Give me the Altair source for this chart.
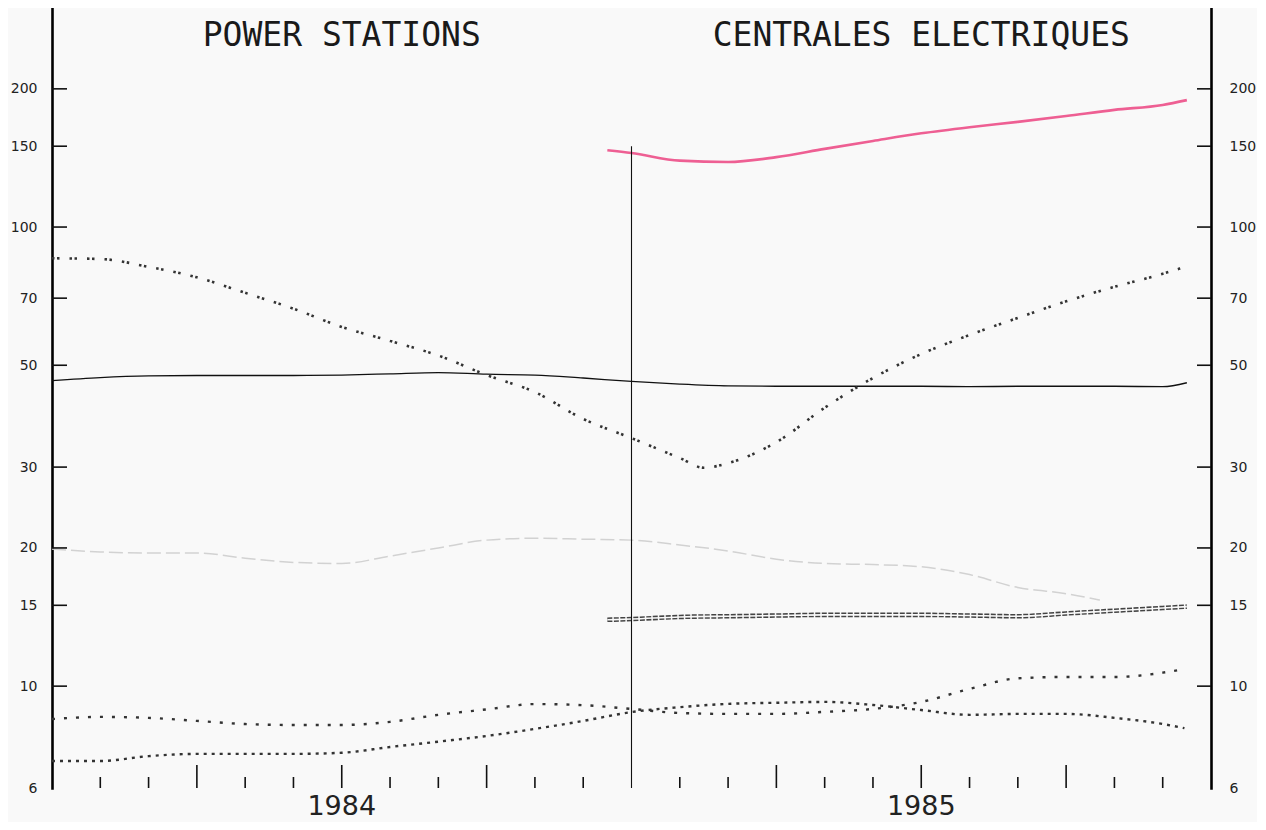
import altair as alt
import pandas as pd

# ---------------- data ----------------
# x positions are months since Jan 1984 (0 = start of 1984, 24 = end of 1985)
pink_months = [11.5, 12, 13, 14, 15, 16, 17, 18, 19, 20, 21, 22, 23, 23.5]
pink_values = [147, 145, 139.5, 138.6, 142, 148, 154, 160, 165, 169.5, 174.5, 180, 184.5, 189]

cross_months = [0, 1, 2, 3, 4, 5, 6, 7, 8, 9, 10, 11, 12, 13, 13.5, 14, 15, 16, 17, 18, 19, 20, 21, 22, 23, 23.4]
cross_values = [85.5, 85.2, 81.9, 77.7, 71.9, 66.4, 60.6, 56.5, 52.5, 47.6, 43.7, 38.2, 34.7, 31.4, 29.9,
                30.6, 34.0, 40.4, 46.9, 52.9, 58.2, 63.4, 68.9, 74.1, 79.1, 81.5]

solid_months = [0, 1, 2, 3, 4, 5, 6, 7, 8, 9, 10, 11, 12, 13, 14, 15, 16, 17, 18, 19, 20, 21, 22, 23, 23.5]
solid_values = [46.3, 47.0, 47.4, 47.5, 47.5, 47.5, 47.6, 47.9, 48.2, 47.8, 47.6, 46.9, 46.1, 45.5,
                45.1, 45.0, 45.0, 45.0, 45.0, 44.9, 45.0, 45.0, 45.0, 44.9, 45.8]

grey_months = [0, 1, 2, 3, 4, 5, 6, 7, 8, 9, 10, 11, 12, 13, 14, 15, 16, 17, 18, 19, 20, 21, 21.7]
grey_values = [19.9, 19.6, 19.5, 19.5, 19.0, 18.6, 18.5, 19.2, 20.0, 20.8, 21.0, 20.9, 20.8, 20.3,
               19.7, 18.9, 18.5, 18.4, 18.2, 17.5, 16.4, 15.9, 15.4]

double_months = [11.5, 12, 13, 14, 15, 16, 17, 18, 19, 20, 21, 22, 23, 23.5]
double_values = [13.95, 14.0, 14.15, 14.2, 14.25, 14.3, 14.3, 14.3, 14.25, 14.2, 14.4, 14.6, 14.8, 14.9]

sparse_months = [0, 1, 2, 3, 4, 5, 6, 7, 8, 9, 10, 11, 12, 13, 14, 15, 16, 17, 18, 19, 20, 21, 22, 23, 23.35]
sparse_values = [8.48, 8.57, 8.53, 8.4, 8.27, 8.23, 8.23, 8.36, 8.66, 8.9, 9.14, 9.09, 8.92, 8.74,
                 8.7, 8.7, 8.79, 8.92, 9.24, 9.86, 10.4, 10.47, 10.47, 10.7, 10.85]

dense_months = [0, 1, 2, 3, 4, 5, 6, 7, 8, 9, 10, 11, 12, 13, 14, 15, 16, 17, 18, 19, 20, 21, 22, 23, 23.45]
dense_values = [6.87, 6.87, 7.04, 7.12, 7.12, 7.12, 7.16, 7.37, 7.57, 7.79, 8.07, 8.4, 8.78, 9.0,
                9.15, 9.2, 9.24, 9.1, 8.87, 8.66, 8.7, 8.7, 8.53, 8.27, 8.1]

y_label_values = [6, 10, 15, 20, 30, 50, 70, 100, 150, 200]
y_tick_values = [10, 15, 20, 30, 50, 70, 100, 150, 200]
minor_month_ticks = [1, 2, 4, 5, 7, 8, 10, 11, 13, 14, 16, 17, 19, 20, 22, 23]
major_month_ticks = [3, 6, 9, 15, 18, 21]
divider_month = [12]
divider_bottom = [6]
divider_top = [150]

year_labels = ["1984", "1985"]
year_centres = [6, 18]
titles = ["POWER STATIONS", "CENTRALES ELECTRIQUES"]

# ---------------- chart ----------------
W, H = 1159, 780
BG = "#f9f9f9"
xs = alt.Scale(domain=[0, 24], nice=False, zero=False)
ys = alt.Scale(type="log", domain=[6, 300], nice=False)


def series(months, values):
    return pd.DataFrame({"month": months, "value": values})


def line(df, **mark):
    return alt.Chart(df).mark_line(interpolate="monotone", **mark).encode(
        x=alt.X("month:Q", scale=xs, axis=None),
        y=alt.Y("value:Q", scale=ys, axis=None),
    )


pink = line(series(pink_months, pink_values), color="#ee5f93", strokeWidth=2.6)
cross = line(series(cross_months, cross_values), color="#333333", strokeWidth=2.6,
             strokeDash=[2.5, 2.5, 2.5, 10])
solid = line(series(solid_months, solid_values), color="#111111", strokeWidth=1.3)
grey = line(series(grey_months, grey_values), color="#d2d2d2", strokeWidth=1.5,
            strokeDash=[14, 5])
double_outer = line(series(double_months, double_values), color="#444444", strokeWidth=4.6,
                    strokeDash=[5, 1.5])
double_inner = line(series(double_months, double_values), color=BG, strokeWidth=1.6)
sparse = line(series(sparse_months, sparse_values), color="#333333", strokeWidth=2.4,
              strokeDash=[3, 9])
dense = line(series(dense_months, dense_values), color="#333333", strokeWidth=2.4,
             strokeDash=[3, 5])

left_axis = alt.Axis(orient="left", values=y_label_values, ticks=False, labelPadding=15,
                     labelFontSize=14, labelFont="DejaVu Sans", labelColor="#222222",
                     labelOverlap=False, domainColor="#000000", domainWidth=2.6,
                     domainCap="square", grid=False, title=None, format="d")
right_axis = alt.Axis(orient="right", values=y_label_values, ticks=False, labelPadding=18,
                      labelFontSize=14, labelFont="DejaVu Sans", labelColor="#222222",
                      labelOverlap=False, domainColor="#000000", domainWidth=2.6,
                      domainCap="square", grid=False, title=None, format="d")
bottom_axis = alt.Axis(orient="bottom", ticks=False, labels=False, domainColor="#000000",
                       domainWidth=2.6, domainCap="square", grid=False, title=None)

ytick_df = pd.DataFrame({"value": y_tick_values})
left_ticks = alt.Chart(ytick_df).mark_rule(color="#111111", strokeWidth=1.6).encode(
    y=alt.Y("value:Q", scale=ys, axis=left_axis),
    x=alt.value(0), x2=alt.value(15),
)
right_ticks = alt.Chart(ytick_df).mark_rule(color="#111111", strokeWidth=1.6).encode(
    y=alt.Y("value:Q", scale=ys, axis=right_axis),
    x=alt.value(W - 14), x2=alt.value(W),
)
minor_ticks = alt.Chart(pd.DataFrame({"month": minor_month_ticks})).mark_rule(
    color="#111111", strokeWidth=1.6).encode(
    x=alt.X("month:Q", scale=xs, axis=bottom_axis),
    y=alt.value(H), y2=alt.value(H - 11),
)
major_ticks = alt.Chart(pd.DataFrame({"month": major_month_ticks})).mark_rule(
    color="#111111", strokeWidth=1.6).encode(
    x=alt.X("month:Q", scale=xs, axis=None),
    y=alt.value(H), y2=alt.value(H - 23),
)
divider = alt.Chart(pd.DataFrame({"month": divider_month, "lo": divider_bottom,
                                  "hi": divider_top})).mark_rule(
    color="#111111", strokeWidth=1.1).encode(
    x=alt.X("month:Q", scale=xs, axis=None),
    y=alt.Y("lo:Q", scale=ys, axis=None),
    y2="hi:Q",
)

title_text = alt.Chart(pd.DataFrame({"month": year_centres, "label": titles})).mark_text(
    font="DejaVu Sans Mono", fontSize=33, color="#1a1a1a", align="center",
    baseline="alphabetic").encode(
    x=alt.X("month:Q", scale=xs, axis=None),
    y=alt.value(38),
    text="label:N",
)
year_text = alt.Chart(pd.DataFrame({"month": year_centres, "label": year_labels})).mark_text(
    font="DejaVu Sans", fontSize=27, color="#222222", align="center",
    baseline="alphabetic").encode(
    x=alt.X("month:Q", scale=xs, axis=None),
    y=alt.value(H + 27),
    text="label:N",
)

chart = alt.layer(
    grey, solid, cross, pink, double_outer, double_inner, sparse, dense,
    divider, minor_ticks, major_ticks, left_ticks, right_ticks, title_text, year_text,
).resolve_axis(y="independent").properties(
    width=W, height=H,
    autosize=alt.AutoSizeParams(type="none"),
    padding={"left": 44, "top": 0, "right": 46, "bottom": 34},
    background=BG,
).configure_view(stroke=None)

chart.save("out.html", embed_options={"renderer": "svg", "actions": False})
